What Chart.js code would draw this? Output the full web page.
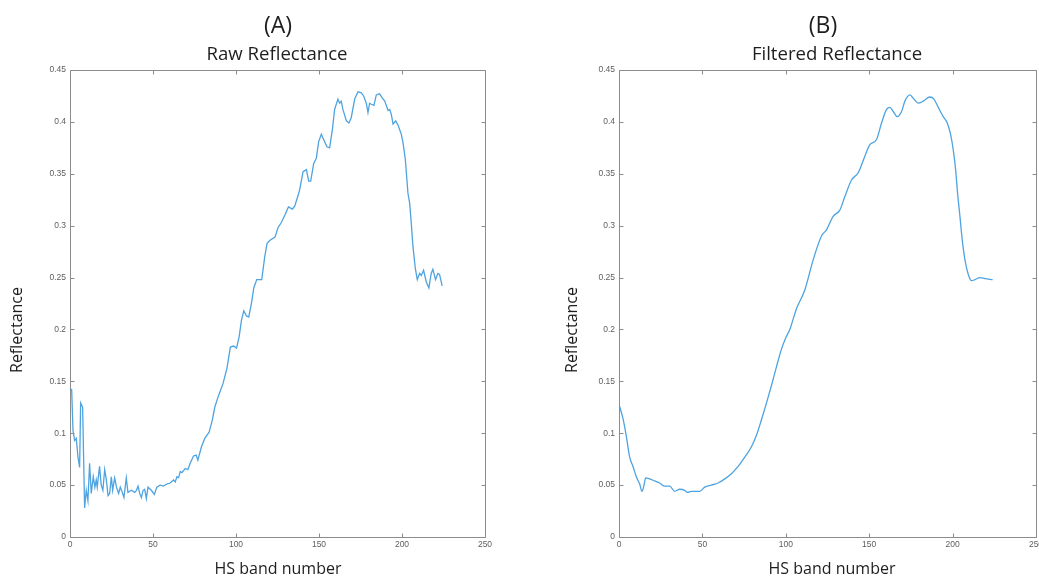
<!DOCTYPE html>
<html>
<head>
<meta charset="utf-8">
<script src="https://cdn.jsdelivr.net/npm/chart.js@4/dist/chart.umd.min.js"></script>
<style>
  html, body { margin: 0; padding: 0; background: #fff; width: 1039px; height: 577px; overflow: hidden; position: relative; }
  canvas { position: absolute; top: 0; }
  .lbl { position: absolute; font-family: "Open Sans", sans-serif; color: #1e1e1e; white-space: nowrap; line-height: 1; transform: translate(-50%, -50%); }
  .rot { transform: translate(-50%, -50%) rotate(-90deg); }
</style>
</head>
<body>
<canvas id="c1" width="519" height="577" style="left:0px"></canvas>
<canvas id="c2" width="530" height="577" style="left:520px"></canvas>

<div class="lbl" style="left:278px; top:24px; font-size:23px;">(A)</div>
<div class="lbl" style="left:277px; top:53px; font-size:18.6px;">Raw Reflectance</div>
<div class="lbl" style="left:278px; top:568px; font-size:16px;">HS band number</div>
<div class="lbl rot" style="left:16px; top:330px; font-size:16px;">Reflectance</div>

<div class="lbl" style="left:823px; top:24px; font-size:23px;">(B)</div>
<div class="lbl" style="left:837px; top:53px; font-size:18.6px;">Filtered Reflectance</div>
<div class="lbl" style="left:832px; top:568px; font-size:16px;">HS band number</div>
<div class="lbl rot" style="left:571px; top:330px; font-size:16px;">Reflectance</div>

<script>
// ---- data ----
const rawBands = [0,1,1.8,2.8,3.8,4.8,5.8,6.4,7.6,8.8,9.8,10.8,11.8,12.8,14,15,15.8,16.4,17.8,18.8,19.8,20.9,21.9,22.9,23.9,24.9,25.7,26.9,28,29.3,30.3,31.5,32.5,33.9,34.9,37,39,40,41,42,43,44,45,46,47,49,50.8,52.3,54.3,56.3,58.3,60.3,62.4,63.4,64.4,65.4,66.4,67.4,69.4,71,72.4,74.4,76,77,79.2,81.2,83.8,85.8,87.2,89.2,92.2,94.6,96.6,98.6,100.3,101.9,103.3,104.7,106.3,107.7,109.3,110.7,112.5,115.5,117.3,118.7,120.5,123.5,125.3,127.3,129.4,131.6,134,135.4,137.4,138.4,140.4,142.4,143.8,145,146.8,148.4,149.8,151.4,152.8,154.8,156.4,158.1,159.4,161.4,162.4,163.4,164.4,166.5,168,169.4,171.5,173.5,175.5,176.9,178.5,179.5,180.5,181.5,183.1,184.5,186.5,188.2,189.6,191.6,192.6,193.6,194.6,196.2,197.6,199.6,200.6,202,203.6,204.6,205.6,206.6,208,209.2,210.6,211.6,213,214.6,216.2,217.6,218.6,220.2,221.6,222.6,224.2];
const rawValues = [0.143,0.142,0.103,0.093,0.095,0.077,0.067,0.129,0.125,0.028,0.045,0.035,0.071,0.042,0.058,0.048,0.055,0.048,0.068,0.050,0.045,0.065,0.055,0.040,0.042,0.058,0.045,0.057,0.048,0.042,0.048,0.043,0.038,0.057,0.043,0.045,0.043,0.045,0.049,0.042,0.038,0.045,0.046,0.037,0.048,0.045,0.041,0.048,0.050,0.049,0.051,0.052,0.055,0.053,0.058,0.057,0.063,0.062,0.066,0.065,0.071,0.078,0.079,0.074,0.087,0.095,0.101,0.113,0.125,0.135,0.148,0.163,0.183,0.184,0.182,0.193,0.209,0.218,0.213,0.212,0.225,0.240,0.248,0.248,0.270,0.283,0.286,0.289,0.298,0.303,0.310,0.318,0.316,0.319,0.329,0.335,0.352,0.354,0.343,0.343,0.360,0.365,0.381,0.388,0.383,0.376,0.375,0.393,0.412,0.422,0.418,0.420,0.412,0.401,0.399,0.404,0.422,0.429,0.428,0.425,0.418,0.409,0.418,0.417,0.416,0.426,0.427,0.423,0.420,0.411,0.412,0.407,0.398,0.401,0.397,0.388,0.380,0.364,0.331,0.322,0.302,0.280,0.259,0.248,0.254,0.252,0.257,0.246,0.240,0.254,0.258,0.248,0.254,0.253,0.242];

const filtBands = [0.4,2.4,4.4,6.4,8.4,10.4,12.4,13.8,15,16,18.4,21.4,24.4,27.4,30.4,33.4,36.4,39.4,41,43.4,48.4,51.4,55.4,59.4,63.4,67.4,71.4,75.4,79.4,82.4,85.4,88.4,91.4,94.4,97.4,100,102.4,106.4,111.4,116.4,121.4,124.4,128.4,132.4,135.4,139.4,143.4,147.4,150.4,154.4,157.4,160.4,162.4,164.4,166.8,169.4,171.4,174.4,176.8,179.4,182.4,186.4,188.8,191.4,194.4,196.8,198.8,200.4,201.8,203,204.4,205.8,207.4,209.4,211.4,213.4,216.4,219.4,224];
const filtValues = [0.126,0.114,0.097,0.077,0.068,0.058,0.051,0.044,0.050,0.057,0.056,0.054,0.052,0.049,0.049,0.044,0.046,0.045,0.043,0.044,0.044,0.048,0.050,0.052,0.056,0.061,0.068,0.077,0.087,0.098,0.113,0.129,0.146,0.164,0.181,0.192,0.200,0.220,0.238,0.267,0.290,0.296,0.309,0.315,0.328,0.344,0.351,0.367,0.378,0.383,0.399,0.412,0.414,0.410,0.405,0.410,0.420,0.426,0.422,0.418,0.420,0.424,0.422,0.414,0.405,0.399,0.388,0.373,0.354,0.331,0.309,0.286,0.267,0.253,0.247,0.248,0.250,0.249,0.248];

const xTickValues = [0, 50, 100, 150, 200, 250];
const xTickLabels = ['0', '50', '100', '150', '200', '250'];
const yTickValues = [0, 0.05, 0.1, 0.15, 0.2, 0.25, 0.3, 0.35, 0.4, 0.45];
const yTickLabels = ['0', '0.05', '0.1', '0.15', '0.2', '0.25', '0.3', '0.35', '0.4', '0.45'];

// ---- styling / helpers ----
const LINE = '#4ea3e0';
const AXIS = '#8c8c8c';
const TICKTXT = '#5e5e5e';
const tickFont = { family: '"Liberation Sans", Arial, sans-serif', size: 8.5 };

const frame = {
  id: 'frame',
  beforeDatasetsDraw(chart) {
    const { ctx, chartArea: a, scales: { x, y } } = chart;
    const L = Math.round(a.left) + 0.5, R = Math.round(a.right) + 0.5;
    const T = Math.round(a.top) + 0.5, B = Math.round(a.bottom) + 0.5;
    ctx.save();
    ctx.strokeStyle = AXIS;
    ctx.lineWidth = 1;
    ctx.beginPath();
    ctx.rect(L, T, R - L, B - T);
    const tl = 4;
    x.ticks.forEach(t => {
      const px = Math.round(x.getPixelForValue(t.value)) + 0.5;
      ctx.moveTo(px, B); ctx.lineTo(px, B - tl);
      ctx.moveTo(px, T); ctx.lineTo(px, T + tl);
    });
    y.ticks.forEach(t => {
      const py = Math.round(y.getPixelForValue(t.value)) + 0.5;
      ctx.moveTo(L, py); ctx.lineTo(L + tl, py);
      ctx.moveTo(R, py); ctx.lineTo(R - tl, py);
    });
    ctx.stroke();
    ctx.restore();
  }
};

function makeChart(id, bands, values, yWidth, padRight, smooth) {
  const pts = bands.map((b, i) => ({ x: b, y: values[i] }));
  return new Chart(document.getElementById(id), {
    type: 'line',
    data: {
      datasets: [{
        data: pts,
        borderColor: LINE,
        borderWidth: 1.3,
        pointRadius: 0,
        fill: false,
        tension: smooth ? 0.4 : 0,
        cubicInterpolationMode: smooth ? 'monotone' : 'default',
        clip: false
      }]
    },
    options: {
      responsive: false,
      animation: false,
      events: [],
      layout: { padding: { top: 70, right: padRight, bottom: 0, left: 0 } },
      plugins: { legend: { display: false }, tooltip: { enabled: false }, title: { display: false } },
      scales: {
        x: {
          type: 'linear', min: 0, max: 250,
          afterBuildTicks: s => { s.ticks = xTickValues.map(v => ({ value: v })); },
          afterFit: s => { s.height = 40; },
          grid: { display: false, drawTicks: false },
          border: { display: false },
          ticks: { color: TICKTXT, font: tickFont, padding: 3, maxRotation: 0, autoSkip: false,
                   callback: (v, i) => xTickLabels[i] }
        },
        y: {
          type: 'linear', min: 0, max: 0.45,
          afterBuildTicks: s => { s.ticks = yTickValues.map(v => ({ value: v })); },
          afterFit: s => { s.width = yWidth; },
          grid: { display: false, drawTicks: false },
          border: { display: false },
          ticks: { color: TICKTXT, font: tickFont, padding: 4, autoSkip: false,
                   callback: (v, i) => yTickLabels[i] }
        }
      }
    },
    plugins: [frame]
  });
}

makeChart('c1', rawBands, rawValues, 70, 34, false);
makeChart('c2', filtBands, filtValues, 99, 14, true);
</script>
</body>
</html>
